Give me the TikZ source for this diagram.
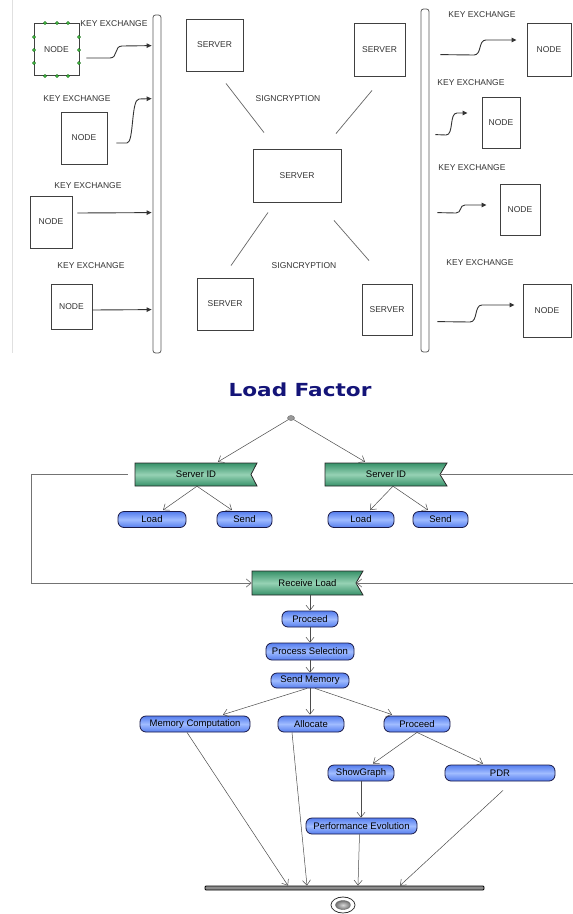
\documentclass[tikz,border=0pt]{standalone}
\usepackage{fontspec}
\newfontfamily\lsans{Liberation Sans}
\newfontfamily\dvsans{DejaVu Sans}
\usetikzlibrary{arrows.meta,calc,shapes.geometric}
\definecolor{titleblue}{RGB}{20,20,120}
\definecolor{flagA}{RGB}{55,145,105}
\definecolor{flagB}{RGB}{150,210,180}
\definecolor{pillA}{RGB}{85,125,238}
\definecolor{pillB}{RGB}{160,188,255}
\definecolor{pillborder}{RGB}{25,25,70}
\begin{document}
\begin{tikzpicture}[x=1pt,y=-1pt,
  tbox/.style={draw=black!75, line width=0.9pt, fill=white, font=\lsans\fontsize{8.5}{10}\selectfont, text=black!80, inner sep=0pt},
  klabel/.style={font=\lsans\fontsize{8.5}{10}\selectfont, text=black!80, inner sep=0pt},
  bus/.style={draw=black!65, line width=0.8pt, fill=white, rounded corners=2.5pt, minimum width=8pt, inner sep=0pt},
  keyarrow/.style={draw=black!80, line width=0.9pt, -{Triangle[length=5pt,width=4.5pt]}},
  link/.style={draw=black!60, line width=0.7pt},
  pill/.style={draw=pillborder, line width=0.8pt, rounded corners=6pt, top color=pillA, bottom color=pillA, middle color=pillB, font=\lsans\fontsize{9.5}{11}\selectfont, inner sep=1pt, minimum height=16pt},
  flagtext/.style={font=\lsans\fontsize{9.5}{11}\selectfont, inner sep=0pt, minimum height=23pt},
  flagshape/.style={draw=black!85, line width=0.8pt, top color=flagA, bottom color=flagA, middle color=flagB},
  flow/.style={draw=black!70, line width=0.5pt, -{Straight Barb[length=5pt,width=8pt]}},
  plain/.style={draw=black!55, line width=0.7pt},
  handle/.style={circle, draw=green!35!black, fill=green!55, inner sep=0pt, minimum size=3pt}
]
\fill[white] (0,0) rectangle (573,914);
\useasboundingbox (0,0) rectangle (573,914);

% ---------- top panel ----------
\draw[black!12, line width=0.8pt] (12,0) -- (12,353);

\node[bus, minimum height=338pt] (busL) at (157,184) {};
\node[bus, minimum height=343pt] (busR) at (425,180.5) {};

% left nodes
\node[tbox, minimum width=45pt, minimum height=52pt] (n1) at (56.5,49.5) {NODE};
\foreach \p in {(45,23),(57,23),(68,23),(45,76),(57,76),(68,76),(34,37),(34,50),(34,63),(79,37),(79,50),(79,63)}
  \node[handle] at \p {};
\node[klabel] (ke1) at (114,24) {KEY EXCHANGE};
\node[tbox, minimum width=46pt, minimum height=52pt] (n2) at (84,138) {NODE};
\node[klabel] (ke2) at (77,99) {KEY EXCHANGE};
\node[tbox, minimum width=42pt, minimum height=52pt] (n3) at (51,222) {NODE};
\node[klabel] (ke3) at (88,186) {KEY EXCHANGE};
\node[tbox, minimum width=41pt, minimum height=45pt] (n4) at (71.5,306.5) {NODE};
\node[klabel] (ke4) at (91,266) {KEY EXCHANGE};

\draw[keyarrow] ([shift={(7,8.5)}]n1.east) -- (110,58) .. controls (118,58) and (114,46) .. (122,46) -- ([shift={(-1,31)}]busL.north west);
\draw[keyarrow] ([shift={(9,5)}]n2.east) -- (127,143) .. controls (134,143) and (131,99) .. (139,99) -- ([shift={(-1,84)}]busL.north west);
\draw[keyarrow] ([shift={(5,-9)}]n3.east) -- ([shift={(-1,198)}]busL.north west);
\draw[keyarrow] ([shift={(0,3.5)}]n4.east) -- ([shift={(-1,295)}]busL.north west);

% servers
\node[tbox, minimum width=57pt, minimum height=52pt] (sTL) at (214.5,45) {SERVER};
\node[tbox, minimum width=51pt, minimum height=53pt] (sTR) at (379.5,49.5) {SERVER};
\node[tbox, minimum width=88pt, minimum height=53pt] (sC) at (297,175.5) {SERVER};
\node[tbox, minimum width=56pt, minimum height=52pt] (sBL) at (225,304) {SERVER};
\node[tbox, minimum width=50pt, minimum height=51pt] (sBR) at (387,309.5) {SERVER};
\node[klabel] (sig1) at (288,99) {SIGNCRYPTION};
\node[klabel] (sig2) at (304,266) {SIGNCRYPTION};

\draw[link] ([shift={(11.5,12)}]sTL.south) -- ([shift={(-33,-16)}]sC.north);
\draw[link] ([shift={(-7.5,14)}]sTR.south) -- ([shift={(39,-15)}]sC.north);
\draw[link] ([shift={(-29,10)}]sC.south) -- ([shift={(6,-12)}]sBL.north);
\draw[link] ([shift={(37,18)}]sC.south) -- ([shift={(-18,-23)}]sBR.north);

% right nodes
\node[tbox, minimum width=44pt, minimum height=53pt] (nR1) at (549,49.5) {NODE};
\node[tbox, minimum width=38pt, minimum height=51pt] (nR2) at (501,122.5) {NODE};
\node[tbox, minimum width=40pt, minimum height=51pt] (nR3) at (520,209.5) {NODE};
\node[tbox, minimum width=48pt, minimum height=53pt] (nR4) at (547,310.5) {NODE};
\node[klabel] (keR1) at (482,15) {KEY EXCHANGE};
\node[klabel] (keR2) at (471,83) {KEY EXCHANGE};
\node[klabel] (keR3) at (472,168) {KEY EXCHANGE};
\node[klabel] (keR4) at (480,263) {KEY EXCHANGE};

\draw[keyarrow] ([shift={(11,46)}]busR.north east) -- (474,55) .. controls (482,55) and (478,40) .. (486,40) -- ([shift={(-10,-9.5)}]nR1.west);
\draw[keyarrow] ([shift={(6,126)}]busR.north east) -- (446,135) .. controls (454,135) and (449,113) .. (457,113) -- ([shift={(-14,-9.5)}]nR2.west);
\draw[keyarrow] ([shift={(8,204)}]busR.north east) -- (456,213) .. controls (462,213) and (459,205) .. (465,205) -- ([shift={(-13,-4.5)}]nR3.west);
\draw[keyarrow] ([shift={(8,313)}]busR.north east) -- (470,322) .. controls (478,322) and (474,305) .. (482,305) -- ([shift={(-8,-5.5)}]nR4.west);

% ---------- bottom: Load Factor ----------
\node[font=\dvsans\bfseries\fontsize{18}{20}\selectfont, text=titleblue, inner sep=0pt] (title) at (300,390) {\scalebox{1.2}[1]{Load Factor}};

\node[ellipse, draw=black!60, fill=black!40, minimum width=7pt, minimum height=5pt, inner sep=0pt] (init) at (291,418) {};

\path[flagshape] (135,463) -- (257,463) -- (251,474.5) -- (257,486) -- (135,486) -- cycle;
\node[flagtext, minimum width=122pt] (sidL) at (196,474.5) {Server ID};
\path[flagshape] (325,463) -- (447,463) -- (440,474.5) -- (447,486) -- (325,486) -- cycle;
\node[flagtext, minimum width=122pt] (sidR) at (386,474.5) {Server ID};

\node[pill, minimum width=68pt] (loadL) at (152,519.5) {Load};
\node[pill, minimum width=55pt] (sendL) at (244.5,519.5) {Send};
\node[pill, minimum width=66pt] (loadR) at (361,519.5) {Load};
\node[pill, minimum width=55pt] (sendR) at (440.5,519.5) {Send};

\draw[flow] (init) -- ([shift={(22,-1)}]sidL.north);
\draw[flow] (init) -- ([shift={(-21,-1)}]sidR.north);
\draw[flow] ([xshift=1pt]sidL.south) -- ([shift={(11,-1)}]loadL.north);
\draw[flow] ([xshift=1pt]sidL.south) -- ([shift={(-12.5,-1)}]sendL.north);
\draw[flow] ([xshift=7pt]sidR.south) -- ([shift={(9,-1)}]loadR.north);
\draw[flow] ([xshift=7pt]sidR.south) -- ([shift={(-12.5,-1)}]sendR.north);

\path[flagshape] (252,571) -- (363,571) -- (356,583) -- (363,595) -- (252,595) -- cycle;
\node[flagtext, minimum width=111pt, minimum height=24pt] (recv) at (307.5,583) {Receive Load};

\coordinate (rOut) at (573,474.5);
\coordinate (rIn) at (573,583);
\draw[plain, -{Straight Barb[length=5pt,width=8pt]}] ([xshift=-7pt]sidL.west) -- (31,474.5) |- (recv.west);
\draw[plain] ([xshift=-7pt]sidR.east) -- (rOut);
\draw[plain, -{Straight Barb[length=5pt,width=8pt]}] (rIn) -- ([xshift=-7pt]recv.east);

\node[pill, minimum width=56pt] (proc1) at (310,619) {Proceed};
\node[pill, minimum width=88pt, minimum height=17pt] (psel) at (310,651.5) {Process Selection};
\node[pill, minimum width=78pt, minimum height=15pt] (smem) at (310,680.5) {Send Memory};
\node[pill, minimum width=110pt] (mcomp) at (195,724) {Memory Computation};
\node[pill, minimum width=66pt] (alloc) at (311,724) {Allocate};
\node[pill, minimum width=66pt] (proc2) at (417,724) {Proceed};
\node[pill, minimum width=66pt] (showg) at (361,773) {ShowGraph};
\node[pill, minimum width=110pt] (pdr) at (500,773) {PDR};
\node[pill, minimum width=111pt] (perf) at (361.5,826) {Performance Evolution};

\draw[flow] ([xshift=2.5pt]recv.south) -- (proc1.north);
\draw[flow] (proc1.south) -- (psel.north);
\draw[flow] (psel.south) -- (smem.north);
\draw[flow] ([xshift=-3pt]smem.south) -- ([shift={(28,-1)}]mcomp.north);
\draw[flow] (smem.south) -- ([shift={(-1,-1)}]alloc.north);
\draw[flow] ([xshift=5pt]smem.south) -- ([shift={(-25,-1)}]proc2.north);
\draw[flow] (proc2.south) -- ([shift={(12,-1)}]showg.north);
\draw[flow] (proc2.south) -- ([shift={(-17,-1)}]pdr.north);
\draw[flow] (showg.south) -- ([xshift=-0.5pt]perf.north);

\node[draw=black, line width=0.8pt, fill=black!45, minimum width=279pt, minimum height=4pt, inner sep=0pt, rounded corners=1pt] (join) at (344.5,888) {};
\draw[flow] ([xshift=-8pt]mcomp.south) -- ([xshift=-56.5pt]join.north);
\draw[flow] ([xshift=-19pt]alloc.south) -- ([xshift=-37.5pt]join.north);
\draw[flow] ([xshift=-2pt]perf.south) -- ([xshift=13.5pt]join.north);
\draw[flow] ([shift={(3,9)}]pdr.south) -- ([xshift=55.5pt]join.north);

\node[ellipse, draw=black!80, line width=0.8pt, fill=white, minimum width=24pt, minimum height=16pt, inner sep=0pt] (final) at (343,905) {};
\node[ellipse, draw=black!60, inner color=black!15, outer color=black!55, minimum width=15pt, minimum height=9pt, inner sep=0pt] (finalin) at (343,905) {};
\end{tikzpicture}
\end{document}
